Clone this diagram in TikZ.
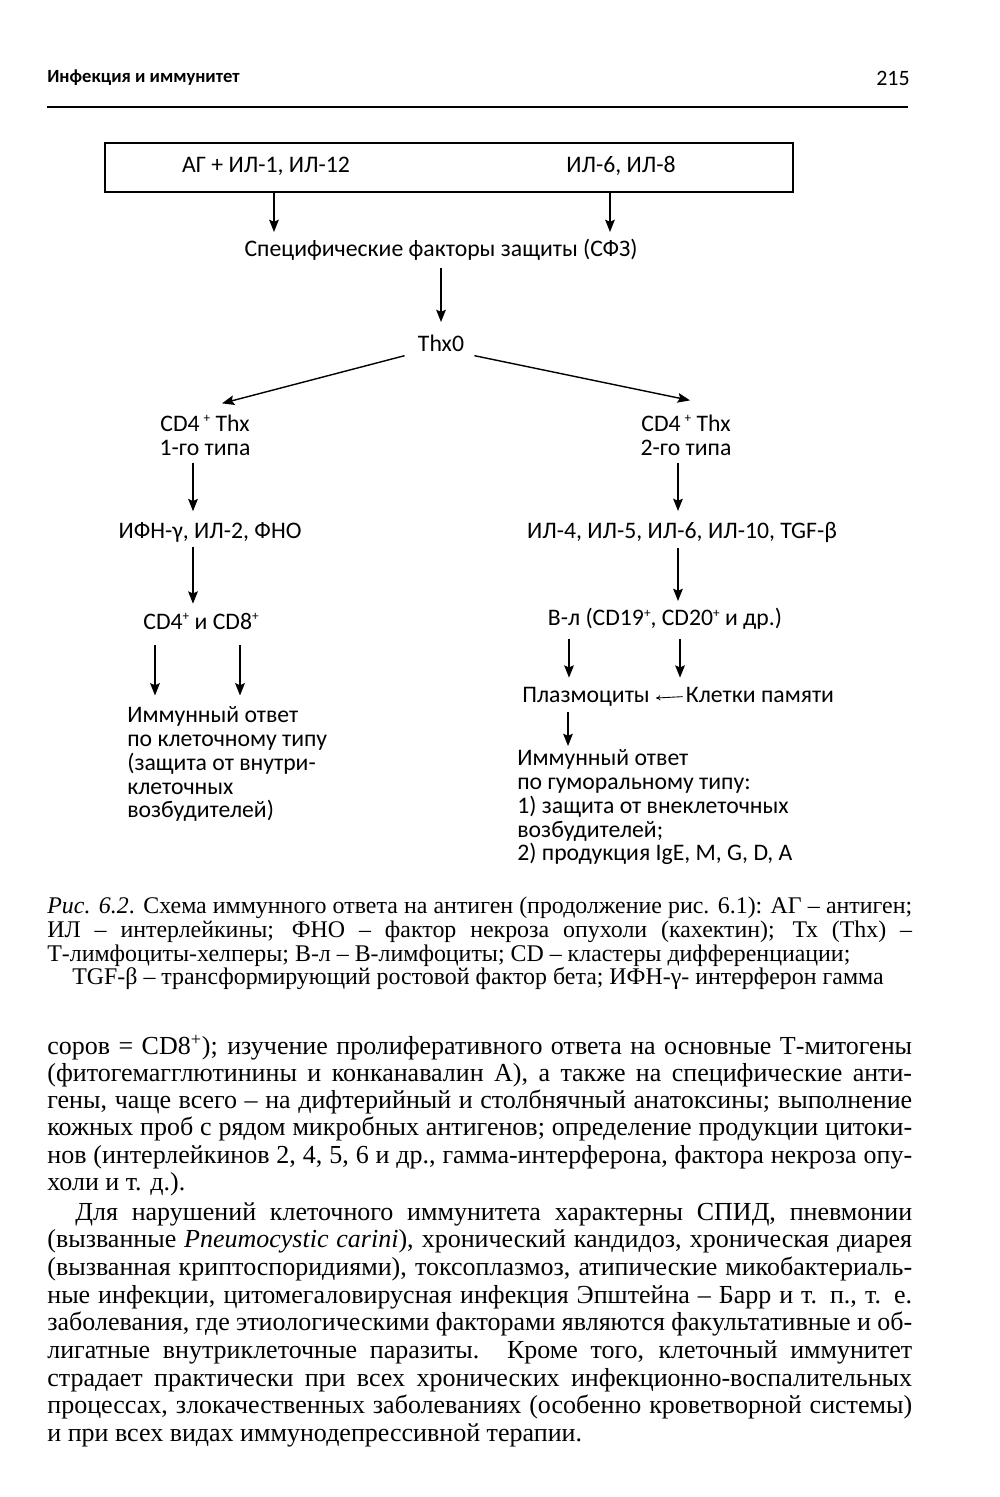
\documentclass[tikz,border=0pt]{standalone}
\usepackage{fontspec}
\setmainfont{Liberation Serif}
\newfontfamily\diagfont{Carlito}
\newfontfamily\bodyfont{Liberation Serif}
\usetikzlibrary{arrows.meta,positioning,calc}

\newcommand\smallplus{\raisebox{0.75ex}{\fontsize{7.5}{7.5}\selectfont+}}

\tikzset{
  lbl/.style={font=\diagfont\fontsize{13.5}{13.6}\selectfont, inner sep=0pt, align=center},
  arr/.style={line width=0.8pt, -{Stealth[length=7pt,width=5.5pt,inset=1.2pt]}},
  small/.style={line width=0.5pt, -{To[length=2.5pt,width=3pt]}},
  textpar/.style={font=\bodyfont\fontsize{14.8}{15.4}\selectfont, inner sep=0pt,
    text width=17.3cm, align=justify, anchor=north west},
  capfont/.style={font=\bodyfont\fontsize{13.6}{13.4}\selectfont},
}

\begin{document}
\begin{tikzpicture}[x=0.02cm, y=-0.02cm]
  \fill[white] (0,0) rectangle (1000,1497);
  \useasboundingbox (0,0) rectangle (1000,1497);

  %%%%%%%%%%%Page head%%%%%%%%%%%
  \node[font=\diagfont\bfseries\fontsize{10.6}{11}\selectfont, anchor=west, inner sep=0pt] (head) at (47,78) {Инфекция и иммунитет};
  \node[font=\diagfont\fontsize{12.5}{13}\selectfont, anchor=east, inner sep=0pt] (page) at (910,78) {215};
  \draw[line width=1.1pt] (47,107) -- (908,107);

  %%%%%%%%%%%Top box%%%%%%%%%%%
  \node[draw, line width=0.8pt, minimum width=13.76cm, minimum height=0.98cm, inner sep=0pt] (box) at (449,167.5) {};
  \node[lbl] (ag) at (266,166) {АГ + ИЛ-1, ИЛ-12};
  \node[lbl] (il68) at (621,166) {ИЛ-6, ИЛ-8};

  %%%%%%%%%%%Nodes%%%%%%%%%%%
  \node[lbl] (sfz) at (441,250) {Специфические факторы защиты (СФЗ)};
  \node[lbl] (thx) at (441,343) {Thx0};
  \node[lbl] (th1) at (205,435) {CD4\,\smallplus\ Thx\\1-го типа};
  \node[lbl] (th2) at (686,435) {CD4\,\smallplus\ Thx\\2-го типа};
  \node[lbl] (ifn) at (210,532) {ИФН-γ, ИЛ-2, ФНО};
  \node[lbl] (il4) at (682,532) {ИЛ-4, ИЛ-5, ИЛ-6, ИЛ-10, TGF-β};
  \node[lbl] (cd48) at (201,621) {CD4\smallplus\ и CD8\smallplus};
  \node[lbl] (bl) at (665,619) {В-л (CD19\smallplus, CD20\smallplus\ и др.)};
  \node[lbl, anchor=base] (plasma) at (586,702) {Плазмоциты};
  \node[lbl, anchor=base] (memory) at (760,702) {Клетки памяти};
  \node[lbl, align=left, anchor=north west] (cell) at (127,706)
    {Иммунный ответ\\по клеточному типу\\(защита от внутри-\\клеточных\\возбудителей)};
  \node[lbl, align=left, anchor=north west] (humor) at (517,749)
    {Иммунный ответ\\по гуморальному типу:\\1) защита от внеклеточных\\возбудителей;\\2) продукция IgE, M, G, D, A};

  %%%%%%%%%%%Arrows%%%%%%%%%%%
  \draw[arr, shorten >=4pt] ($(ag |- box.south)+(8,0)$) -- ($(ag |- sfz.north)+(8,0)$);
  \draw[arr, shorten >=4pt] ($(il68 |- box.south)+(-11,0)$) -- ($(il68 |- sfz.north)+(-11,0)$);
  \draw[arr, shorten <=4pt, shorten >=7pt] (sfz.south) -- (thx.north);
  \draw[arr] ($(thx.south west)+(-13,4)$) -- ($(th1.north)+(17,-11)$);
  \draw[arr] ($(thx.south east)+(10,4)$) -- ($(th2.north)+(4,-14)$);
  \draw[arr, shorten <=4pt, shorten >=6pt] ($(th1.south)+(-12,0)$) -- ($(ifn.north)+(-17,0)$);
  \draw[arr, shorten <=4pt, shorten >=6pt] ($(th2.south)+(-8,0)$) -- ($(il4.north)+(-4,0)$);
  \draw[arr, shorten <=3pt, shorten >=5pt] ($(ifn.south)+(-17,0)$) -- ($(cd48.north)+(-8,0)$);
  \draw[arr, shorten <=3pt, shorten >=4pt] ($(il4.south)+(-4,0)$) -- ($(bl.north)+(13,0)$);
  \draw[arr, shorten <=9pt, shorten >=6pt] ($(cd48.south)+(-46,0)$) -- ($(cd48.south |- cell.north)+(-46,0)$);
  \draw[arr, shorten <=9pt, shorten >=6pt] ($(cd48.south)+(39,0)$) -- ($(cd48.south |- cell.north)+(39,0)$);
  \draw[arr, shorten <=5pt, shorten >=5pt] ($(bl.south)+(-96,0)$) -- ($(plasma.north)+(-17,0)$);
  \draw[arr, shorten <=5pt, shorten >=5pt] ($(bl.south)+(15,0)$) -- ($(memory.north)+(-80,0)$);
  \draw[small, shorten <=1.7pt, shorten >=3.4pt] ($(memory.west)+(0,2)$) -- ($(plasma.east)+(0,2)$);
  \draw[arr, shorten <=3pt, shorten >=1.7pt] ($(plasma.south)+(-18,0)$) -- ($(plasma.south |- humor.north)+(-18,0)$);

  %%%%%%%%%%%Caption%%%%%%%%%%%
  \node[textpar, capfont] (cap) at (47,897)
    {\textit{Рис. 6.2}. Схема иммунного ответа на антиген (продолжение рис. 6.1): АГ – антиген;\linebreak
     ИЛ – интерлейкины; ФНО – фактор некроза опухоли (кахектин); Тх (Thx) –\linebreak
     Т-лимфоциты-хелперы; В-л – В-лимфоциты; CD – кластеры дифференциации;};
  \node[capfont, inner sep=0pt] (caplast) at (478,979)
    {TGF-β – трансформирующий ростовой фактор бета; ИФН-γ- интерферон гамма};

  %%%%%%%%%%%Text%%%%%%%%%%%
  \node[textpar] (par1) at (47,1035)
    {соров = CD8\textsuperscript{+}); изучение пролиферативного ответа на основные Т-митогены\linebreak
     (фитогемагглютинины и конканавалин А), а также на специфические анти-\linebreak
     гены, чаще всего – на дифтерийный и столбнячный анатоксины; выполнение\linebreak
     кожных проб с рядом микробных антигенов; определение продукции цитоки-\linebreak
     нов (интерлейкинов 2, 4, 5, 6 и др., гамма-интерферона, фактора некроза опу-\linebreak
     холи и т. д.).};
  \node[textpar, font=\bodyfont\fontsize{14.8}{15.75}\selectfont] (par2) at (47,1202)
    {\hspace*{0.56cm}Для нарушений клеточного иммунитета характерны СПИД, пневмонии\linebreak
     (вызванные \textit{Pneumocystic carini}), хронический кандидоз, хроническая диарея\linebreak
     (вызванная криптоспоридиями), токсоплазмоз, атипические микобактериаль-\linebreak
     ные инфекции, цитомегаловирусная инфекция Эпштейна – Барр и т. п., т. е.\linebreak
     заболевания, где этиологическими факторами являются факультативные и об-\linebreak
     лигатные внутриклеточные паразиты. Кроме того, клеточный иммунитет\linebreak
     страдает практически при всех хронических инфекционно-воспалительных\linebreak
     процессах, злокачественных заболеваниях (особенно кроветворной системы)\linebreak
     и при всех видах иммунодепрессивной терапии.};
\end{tikzpicture}
\end{document}
